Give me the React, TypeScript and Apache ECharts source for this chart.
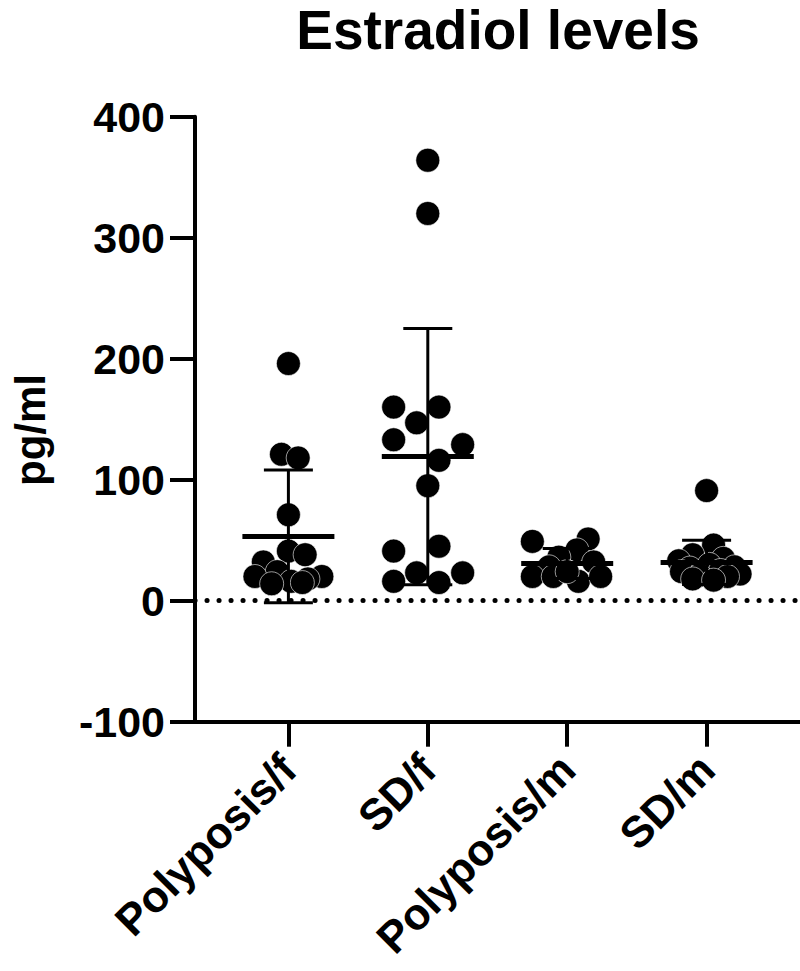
import React, { useEffect, useRef } from "react";
import * as echarts from "echarts";

const categories = ["Polyposis/f", "SD/f", "Polyposis/m", "SD/m"];

const polyposisF = [196, 121, 118, 71, 41, 38, 32, 24, 20, 20, 18, 16, 15, 14];
const polyposisFJitter = [0, -0.05, 0.07, 0, 0, 0.12, -0.18, -0.08, -0.24, 0.24, 0.14, 0.02, 0.1, -0.12];

const sdF = [364, 320, 160, 160, 147, 133, 129, 116, 95, 41, 45, 23, 23, 16, 15];
const sdFJitter = [0, 0, -0.245, 0.08, -0.08, -0.245, 0.25, 0.08, 0, -0.245, 0.08, -0.08, 0.25, -0.245, 0.08];

const polyposisM = [49, 51, 42, 36, 32, 28, 20, 20, 16, 20, 24];
const polyposisMJitter = [-0.25, 0.15, 0.07, -0.06, 0.19, -0.13, -0.25, -0.1, 0.08, 0.24, 0];

const sdM = [91, 46, 38, 35, 33, 30, 28, 27, 25, 24, 22, 21, 20, 18, 17];
const sdMJitter = [0, 0.05, -0.1, 0.12, -0.2, 0.02, 0.2, -0.12, 0.1, -0.18, 0.24, -0.05, 0.15, -0.1, 0.05];

const yMin = -100;
const yMax = 400;
const yInterval = 100;

const FONT = "'Liberation Sans', Arial, sans-serif";

function stats(a: number[]) {
  const m = a.reduce((s, v) => s + v, 0) / a.length;
  const v = a.reduce((s, x) => s + (x - m) * (x - m), 0) / (a.length - 1);
  return [m, Math.sqrt(v)];
}

export default function App() {
  const ref = useRef<HTMLDivElement>(null);
  useEffect(() => {
    const chart = echarts.init(ref.current as HTMLDivElement, null, { renderer: "svg" });
    const groups = [
      { values: polyposisF, jitter: polyposisFJitter },
      { values: sdF, jitter: sdFJitter },
      { values: polyposisM, jitter: polyposisMJitter },
      { values: sdM, jitter: sdMJitter },
    ];
    const points: number[][] = [];
    groups.forEach((g, i) => g.values.forEach((v, k) => points.push([i + g.jitter[k], v])));
    const summary = groups.map((g, i) => {
      const [m, sd] = stats(g.values);
      return [i, m, sd];
    });

    chart.setOption({
      animation: false,
      backgroundColor: "#fff",
      grid: { left: 195, top: 116.7, right: 0, bottom: 249.3, containLabel: false, outerBoundsMode: "none" },
      graphic: [
        {
          type: "text",
          x: 498,
          y: 2,
          style: {
            text: "Estradiol levels",
            font: `bold 55px ${FONT}`,
            fill: "#000",
            align: "center",
            verticalAlign: "top",
          },
        },
        {
          type: "text",
          x: 30,
          y: 430,
          rotation: Math.PI / 2,
          style: {
            text: "pg/ml",
            font: `bold 42px ${FONT}`,
            fill: "#000",
            align: "center",
            verticalAlign: "middle",
          },
        },
      ],
      xAxis: {
        type: "value",
        min: -0.67,
        max: 3.67,
        splitLine: { show: false },
        axisLine: { onZero: false, lineStyle: { color: "#000", width: 4 } },
        axisTick: { show: true, length: 25, lineStyle: { color: "#000", width: 4 }, customValues: [0, 1, 2, 3] },
        axisLabel: {
          customValues: [0, 1, 2, 3],
          formatter: (v: number) => categories[Math.round(v)] ?? "",
          rotate: 45,
          margin: 40,
          color: "#000",
          fontSize: 44,
          fontWeight: "bold",
          fontFamily: FONT,
        },
      },
      yAxis: {
        type: "value",
        min: yMin,
        max: yMax,
        interval: yInterval,
        splitLine: { show: false },
        axisLine: { show: true, onZero: false, lineStyle: { color: "#000", width: 4 } },
        axisTick: { show: true, length: 25, lineStyle: { color: "#000", width: 4 } },
        axisLabel: {
          margin: 30,
          color: "#000",
          fontSize: 43,
          fontWeight: "bold",
          fontFamily: FONT,
        },
      },
      series: [
        {
          type: "scatter",
          data: points,
          symbol: "circle",
          symbolSize: 24,
          itemStyle: { color: "#000", opacity: 1, borderColor: "#fff", borderWidth: 0.6 },
          markLine: {
            silent: true,
            symbol: ["none", "none"],
            label: { show: false },
            lineStyle: { color: "#000", width: 5, type: [0.1, 11.9], cap: "round", opacity: 1 },
            data: [{ yAxis: 0 }],
          },
          z: 2,
        },
        {
          type: "custom",
          data: summary,
          encode: { x: 0, y: 1 },
          z: 3,
          renderItem: (params: any, api: any) => {
            const i = api.value(0);
            const m = api.value(1);
            const sd = api.value(2);
            const c = api.coord([i, m]);
            const t = api.coord([i, m + sd]);
            const b = api.coord([i, m - sd]);
            const style = { stroke: "#000", lineWidth: 3 };
            return {
              type: "group",
              children: [
                { type: "line", shape: { x1: c[0], y1: t[1], x2: c[0], y2: b[1] }, style },
                { type: "line", shape: { x1: c[0] - 24.5, y1: t[1], x2: c[0] + 24.5, y2: t[1] }, style },
                { type: "line", shape: { x1: c[0] - 24.5, y1: b[1], x2: c[0] + 24.5, y2: b[1] }, style },
                { type: "line", shape: { x1: c[0] - 46, y1: c[1], x2: c[0] + 46, y2: c[1] }, style: { stroke: "#000", lineWidth: 5 } },
              ],
            };
          },
        },
      ],
    });
    return () => chart.dispose();
  }, []);
  return (
    <div
      ref={ref}
      style={{ position: "fixed", left: 0, top: 0, width: 800, height: 971, background: "#fff" }}
    />
  );
}
